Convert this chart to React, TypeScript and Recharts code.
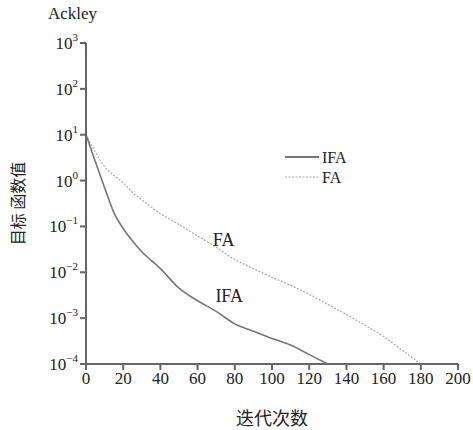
import { LineChart, Line, XAxis, YAxis, ReferenceDot } from 'recharts'

// iterations sampled along the x axis
const iterations = [0, 5, 10, 15, 20, 25, 30, 40, 50, 60, 70, 80, 90, 100, 110, 120, 130, 140, 150, 160, 170, 180]
// objective value of the improved firefly algorithm (ends at 130)
const ifaValues = [10, 2.6, 0.7, 0.2, 0.09, 0.048, 0.028, 0.012, 0.0045, 0.0024, 0.0014, 0.00075, 0.00052, 0.00036, 0.00026, 0.00016, 0.0001, null, null, null, null, null]
// objective value of the standard firefly algorithm
const faValues = [10, 4.2, 2.0, 1.3, 0.9, 0.55, 0.38, 0.19, 0.11, 0.062, 0.035, 0.019, 0.012, 0.0078, 0.0052, 0.0033, 0.002, 0.0012, 0.0007, 0.0004, 0.0002, 0.0001]

const xTicks = [0, 20, 40, 60, 80, 100, 120, 140, 160, 180, 200]
const yTicks = [1e-4, 1e-3, 1e-2, 1e-1, 1, 10, 100, 1000]

const data = iterations.map((x, i) => ({ x, ifa: ifaValues[i], fa: faValues[i] }))

const serif = '"Liberation Serif", "Times New Roman", serif'
const cjk = '"Noto Sans CJK SC", sans-serif'
const axisColor = '#666'

const YTick = ({ x, y, payload }: any) => {
  const exp = Math.round(Math.log10(payload.value))
  const sup = exp < 0 ? '\u2212' + Math.abs(exp) : String(exp)
  return (
    <text x={x} y={y} dy={6} textAnchor="end" fontFamily={serif} fontSize={17} fill="#222">
      <tspan>10</tspan>
      <tspan dy={-8} fontSize={11}>{sup}</tspan>
    </text>
  )
}

const Note = (text: string) => ({ viewBox }: any) => (
  <text x={viewBox.x} y={viewBox.y} dy={6} textAnchor="middle" fontFamily={serif} fontSize={18} fill="#222">{text}</text>
)

export default function App() {
  return (
    <div style={{ position: 'absolute', left: 0, top: 0, width: 473, height: 430, background: '#fff' }}>
      <div style={{ position: 'absolute', left: 48, top: 4, fontFamily: serif, fontSize: 17, color: '#222' }}>Ackley</div>
      <LineChart width={473} height={430} data={data} margin={{ top: 43, right: 15, bottom: 26, left: 26 }}>
        <XAxis
          dataKey="x"
          type="number"
          domain={[0, 200]}
          ticks={xTicks}
          stroke={axisColor}
          strokeWidth={2}
          tickSize={6}
          tick={{ fontFamily: serif, fontSize: 17, fill: '#222' }}
          height={40}
          label={{ value: '迭代次数', position: 'insideBottom', offset: -21, fontFamily: cjk, fontSize: 18, fill: '#222' }}
        />
        <YAxis
          scale="log"
          domain={[1e-4, 1e3]}
          ticks={yTicks}
          allowDataOverflow
          stroke={axisColor}
          strokeWidth={2}
          tickSize={6}
          tick={<YTick />}
          width={60}
          label={{ value: '目标 函数值', angle: -90, position: 'insideLeft', offset: -8, fontFamily: cjk, fontSize: 16, fill: '#222', style: { textAnchor: 'middle' } }}
        />
        <Line type="monotone" dataKey="fa" stroke="#aaa" strokeWidth={1.2} strokeDasharray="2 1.5" dot={false} isAnimationActive={false} />
        <Line type="monotone" dataKey="ifa" stroke="#777" strokeWidth={1.6} dot={false} isAnimationActive={false} />
        <ReferenceDot x={74} y={0.05} r={0} label={Note('FA')} />
        <ReferenceDot x={77} y={0.003} r={0} label={Note('IFA')} />
      </LineChart>
      <svg style={{ position: 'absolute', left: 283, top: 147 }} width={80} height={44}>
        <line x1={2} y1={10} x2={36} y2={10} stroke="#777" strokeWidth={2} />
        <text x={39} y={16} fontFamily={serif} fontSize={16} fill="#222">IFA</text>
        <line x1={2} y1={30} x2={36} y2={30} stroke="#aaa" strokeWidth={1.2} strokeDasharray="2 1.5" />
        <text x={39} y={36} fontFamily={serif} fontSize={16} fill="#222">FA</text>
      </svg>
    </div>
  )
}
